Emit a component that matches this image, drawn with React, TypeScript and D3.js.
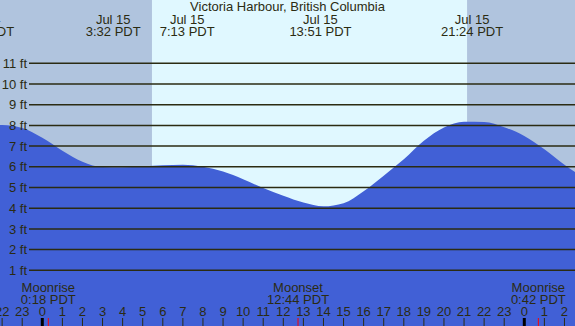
import React, {useEffect, useRef} from 'react'
import * as d3 from 'd3'

// tide height (ft) read at each hour, hour 0 = midnight Jul 15
const tideHours = [-3, -2, -1, 0, 1, 2, 3, 4, 5, 6, 7, 8, 9, 10, 11, 12, 13, 14, 15, 16, 17, 18, 19, 20, 21, 22, 23, 24, 25, 26, 27];
const tideHeights = [8.03, 8.02, 7.88, 7.4, 6.78, 6.25, 5.99, 5.98, 6.02, 6.07, 6.1, 6.0, 5.77, 5.4, 4.97, 4.6, 4.27, 4.09, 4.24, 4.82, 5.57, 6.36, 7.26, 7.9, 8.18, 8.16, 7.91, 7.49, 6.85, 6.1, 5.45];

const eventHours = [-2.95, 3.533, 7.217, 13.85, 21.4];
const eventDates = ["Jul 14", "Jul 15", "Jul 15", "Jul 15", "Jul 15"];
const eventTimes = ["21:03 PDT", "3:32 PDT", "7:13 PDT", "13:51 PDT", "21:24 PDT"];

const moonHours = [0.3, 12.733, 24.7];
const moonNames = ["Moonrise", "Moonset", "Moonrise"];
const moonTimes = ["0:18 PDT", "12:44 PDT", "0:42 PDT"];

const sunrise = 5.46;
const sunset = 21.15;

const yTicks = [1, 2, 3, 4, 5, 6, 7, 8, 9, 10, 11];
const hourTicks = d3.range(-2, 27);

const title = "Victoria Harbour, British Columbia";

const W = 575, H = 326;
const FONT = '"Liberation Sans", Arial, sans-serif';
const INK = '#2b2b12';

const App = () => {
  const ref = useRef(null);

  useEffect(() => {
    const x = d3.scaleLinear().domain([0, 24]).range([42.3, 524.3]);
    const y = d3.scaleLinear().domain([0, 11]).range([291, 63.3]);

    const svg = d3.select(ref.current);
    svg.selectAll('*').remove();
    const g = svg.append('g');

    // night / day background
    g.append('rect').attr('x', 0).attr('y', 0).attr('width', W).attr('height', H).attr('fill', '#b0c4de');
    g.append('rect')
      .attr('x', x(sunrise)).attr('y', 0)
      .attr('width', x(sunset) - x(sunrise)).attr('height', H)
      .attr('fill', '#e0f8ff');

    // tide area
    const area = d3.area()
      .x((d, i) => x(tideHours[i]))
      .y0(H)
      .y1(d => y(d))
      .curve(d3.curveMonotoneX);
    g.append('path')
      .datum(tideHeights)
      .attr('fill', '#4160d6')
      .attr('d', area);

    // grid lines + labels
    yTicks.forEach(t => {
      g.append('line')
        .attr('x1', 29).attr('x2', W)
        .attr('y1', y(t)).attr('y2', y(t))
        .attr('stroke', INK).attr('stroke-width', 1.5);
      g.append('text')
        .attr('x', 27).attr('y', y(t) + 4.6)
        .attr('text-anchor', 'end')
        .attr('font-family', FONT).attr('font-size', 13)
        .attr('fill', INK)
        .text(t + ' ft');
    });

    // title
    g.append('text')
      .attr('x', W / 2).attr('y', 11)
      .attr('text-anchor', 'middle')
      .attr('font-family', FONT).attr('font-size', 13)
      .attr('fill', INK)
      .text(title);

    // tide events
    eventHours.forEach((h, i) => {
      g.append('text')
        .attr('x', x(h)).attr('y', 23.5)
        .attr('text-anchor', 'middle')
        .attr('font-family', FONT).attr('font-size', 13)
        .attr('fill', INK)
        .text(eventDates[i]);
      g.append('text')
        .attr('x', x(h)).attr('y', 35.5)
        .attr('text-anchor', 'middle')
        .attr('font-family', FONT).attr('font-size', 13)
        .attr('fill', INK)
        .text(eventTimes[i]);
    });

    // moon events
    moonHours.forEach((h, i) => {
      g.append('text')
        .attr('x', x(h)).attr('y', 291.5)
        .attr('text-anchor', 'middle')
        .attr('font-family', FONT).attr('font-size', 13)
        .attr('fill', INK)
        .text(moonNames[i]);
      g.append('text')
        .attr('x', x(h)).attr('y', 303.5)
        .attr('text-anchor', 'middle')
        .attr('font-family', FONT).attr('font-size', 13)
        .attr('fill', INK)
        .text(moonTimes[i]);
      g.append('line')
        .attr('x1', x(h)).attr('x2', x(h))
        .attr('y1', 318).attr('y2', H)
        .attr('stroke', 'red').attr('stroke-width', 1);
    });

    // hour axis
    hourTicks.forEach(h => {
      const hh = ((h % 24) + 24) % 24;
      g.append('text')
        .attr('x', x(h)).attr('y', 315.7)
        .attr('text-anchor', 'middle')
        .attr('font-family', FONT).attr('font-size', 13)
        .attr('fill', INK)
        .text(hh);
      g.append('line')
        .attr('x1', x(h)).attr('x2', x(h))
        .attr('y1', 318).attr('y2', H)
        .attr('stroke', hh === 0 ? '#000' : INK)
        .attr('stroke-width', hh === 0 ? 3 : 1);
    });
  }, []);

  return (
    <svg ref={ref} width={W} height={H}
      style={{position: 'fixed', left: 0, top: 0, display: 'block'}}>
    </svg>
  )
};

export default App
